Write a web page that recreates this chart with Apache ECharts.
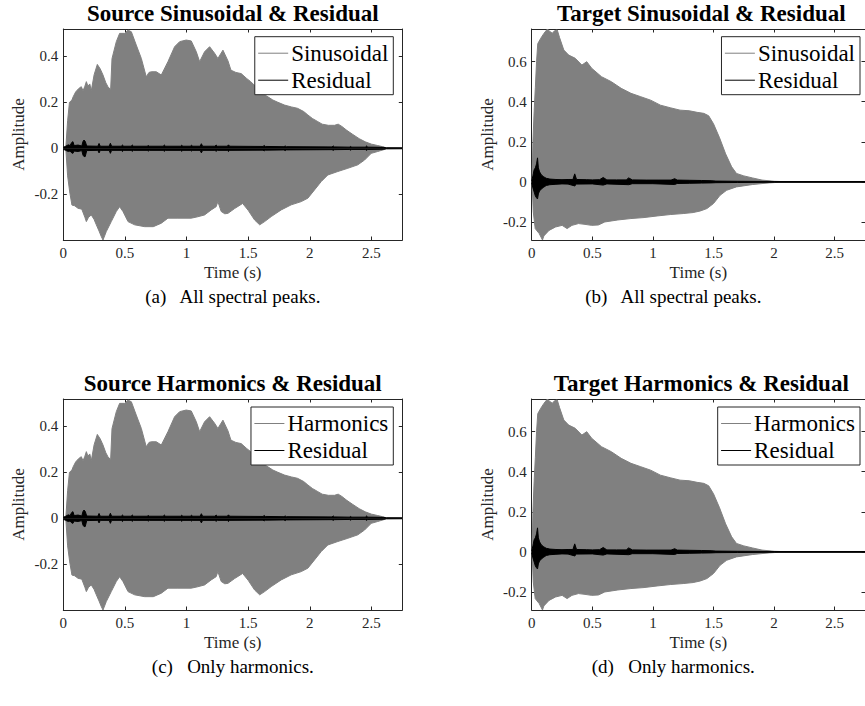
<!DOCTYPE html>
<html>
<head>
<meta charset="utf-8">
<script src="https://cdn.jsdelivr.net/npm/echarts@6/dist/echarts.min.js"></script>
<style>
  html, body { margin: 0; padding: 0; background: #fff; }
  #chart { width: 865px; height: 706px; }
</style>
</head>
<body>
<div id="chart"></div>
<script>
// ---- axis ticks and ranges ----
const timeTicks = [0, 0.5, 1, 1.5, 2, 2.5];
const timeRange = [0, 2.75];
const srcAmpTicks = [-0.2, 0, 0.2, 0.4];
const srcAmpRange = [-0.399, 0.519];
const tgtAmpTicks = [-0.2, 0, 0.2, 0.4, 0.6];
const tgtAmpRange = [-0.29, 0.763];

// ---- texts ----
const panelTitles = [
  'Source Sinusoidal & Residual',
  'Target Sinusoidal & Residual',
  'Source Harmonics & Residual',
  'Target Harmonics & Residual'
];
const panelCaptions = [
  '(a)\u2002 All spectral peaks.',
  '(b)\u2002 All spectral peaks.',
  '(c)\u2002 Only harmonics.',
  '(d)\u2002 Only harmonics.'
];
const modelNames = ['Sinusoidal', 'Sinusoidal', 'Harmonics', 'Harmonics'];

// ---- source signal: envelope of the deterministic part [time s, amplitude] ----
const srcSinUpper = [
  [0.0, 0], [0.02, 0.0], [0.035, 0.12], [0.05, 0.2], [0.07, 0.21], [0.08, 0.224],
  [0.1, 0.245], [0.125, 0.26], [0.146, 0.268], [0.16, 0.25], [0.175, 0.27],
  [0.187, 0.29], [0.2, 0.27], [0.215, 0.28], [0.227, 0.25], [0.25, 0.32],
  [0.276, 0.365], [0.3, 0.345], [0.322, 0.319], [0.345, 0.285], [0.362, 0.268],
  [0.384, 0.255], [0.395, 0.39], [0.43, 0.464], [0.457, 0.5], [0.498, 0.5],
  [0.525, 0.514], [0.552, 0.507], [0.592, 0.449], [0.633, 0.391], [0.673, 0.311],
  [0.695, 0.33], [0.714, 0.333], [0.754, 0.333], [0.795, 0.319], [0.849, 0.377],
  [0.903, 0.442], [0.944, 0.464], [0.997, 0.471], [1.038, 0.467], [1.079, 0.42],
  [1.106, 0.377], [1.146, 0.42], [1.187, 0.442], [1.228, 0.413], [1.254, 0.391],
  [1.295, 0.427], [1.336, 0.38], [1.36, 0.34], [1.4, 0.33], [1.443, 0.325],
  [1.487, 0.304], [1.52, 0.29], [1.568, 0.265], [1.61, 0.24], [1.66, 0.224],
  [1.7, 0.21], [1.741, 0.2], [1.795, 0.188], [1.85, 0.18], [1.9, 0.174],
  [1.95, 0.16], [1.984, 0.145], [2.02, 0.13], [2.065, 0.116], [2.1, 0.105],
  [2.15, 0.1], [2.2, 0.1], [2.23, 0.105], [2.26, 0.095], [2.3, 0.078],
  [2.349, 0.06], [2.4, 0.042], [2.45, 0.028], [2.5, 0.018], [2.55, 0.012],
  [2.59, 0.007], [2.62, 0.002], [2.75, 0.001]
];
const srcSinLower = [
  [0.02, 0], [0.035, -0.12], [0.052, -0.19], [0.07, -0.247], [0.092, -0.25],
  [0.119, -0.261], [0.15, -0.265], [0.175, -0.3], [0.187, -0.319], [0.205, -0.3],
  [0.227, -0.29], [0.25, -0.31], [0.268, -0.333], [0.29, -0.36], [0.308, -0.384],
  [0.322, -0.399], [0.349, -0.362], [0.389, -0.319], [0.43, -0.275], [0.457, -0.254],
  [0.484, -0.275], [0.525, -0.319], [0.579, -0.333], [0.66, -0.341], [0.73, -0.341],
  [0.795, -0.326], [0.849, -0.304], [0.93, -0.304], [1.038, -0.304], [1.09, -0.298],
  [1.146, -0.29], [1.2, -0.268], [1.24, -0.254], [1.254, -0.232], [1.281, -0.275],
  [1.31, -0.285], [1.336, -0.283], [1.39, -0.262], [1.455, -0.24], [1.5, -0.27],
  [1.552, -0.312], [1.593, -0.333], [1.633, -0.319], [1.687, -0.297], [1.768, -0.268],
  [1.849, -0.246], [1.93, -0.232], [1.984, -0.217], [2.038, -0.181], [2.092, -0.145],
  [2.146, -0.116], [2.227, -0.101], [2.308, -0.087], [2.389, -0.072], [2.444, -0.051],
  [2.498, -0.022], [2.55, -0.014], [2.6, -0.006], [2.62, -0.002], [2.75, -0.001]
];
// source residual envelope
const srcResUpper = [
  [0.0, 0.004], [0.02, 0.009], [0.04, 0.015], [0.055, 0.012], [0.068, 0.025],
  [0.078, 0.029], [0.088, 0.012], [0.12, 0.014], [0.15, 0.01], [0.16, 0.03],
  [0.168, 0.036], [0.178, 0.03], [0.19, 0.01], [0.28, 0.009], [0.29, 0.021],
  [0.3, 0.009], [0.372, 0.009], [0.382, 0.022], [0.392, 0.009], [0.47, 0.009],
  [0.48, 0.014], [0.49, 0.009], [0.55, 0.009], [0.56, 0.014], [0.57, 0.009],
  [0.68, 0.009], [0.69, 0.012], [0.7, 0.009], [0.81, 0.009], [0.82, 0.014],
  [0.83, 0.009], [0.95, 0.009], [0.96, 0.013], [0.97, 0.009], [1.03, 0.009],
  [1.04, 0.013], [1.05, 0.009], [1.11, 0.009], [1.12, 0.02], [1.13, 0.009],
  [1.23, 0.009], [1.24, 0.014], [1.25, 0.009], [1.33, 0.009], [1.34, 0.015],
  [1.35, 0.009], [1.62, 0.008], [1.63, 0.012], [1.64, 0.008], [1.79, 0.007],
  [1.8, 0.01], [1.81, 0.007], [2.18, 0.006], [2.19, 0.01], [2.2, 0.006],
  [2.32, 0.005], [2.33, 0.008], [2.34, 0.005], [2.45, 0.005], [2.46, 0.01],
  [2.47, 0.005], [2.6, 0.004], [2.62, 0.002], [2.75, 0.002]
];
const srcResLower = [
  [0.0, -0.004], [0.02, -0.009], [0.04, -0.014], [0.055, -0.012], [0.068, -0.02],
  [0.078, -0.022], [0.088, -0.012], [0.12, -0.014], [0.15, -0.01], [0.16, -0.03],
  [0.168, -0.036], [0.178, -0.036], [0.19, -0.01], [0.28, -0.009], [0.29, -0.02],
  [0.3, -0.009], [0.372, -0.009], [0.382, -0.022], [0.392, -0.009], [0.47, -0.009],
  [0.48, -0.014], [0.49, -0.009], [0.55, -0.009], [0.56, -0.013], [0.57, -0.009],
  [0.68, -0.009], [0.69, -0.012], [0.7, -0.009], [0.81, -0.009], [0.82, -0.013],
  [0.83, -0.009], [0.95, -0.009], [0.96, -0.013], [0.97, -0.009], [1.03, -0.009],
  [1.04, -0.012], [1.05, -0.009], [1.11, -0.009], [1.12, -0.02], [1.13, -0.009],
  [1.23, -0.009], [1.24, -0.013], [1.25, -0.009], [1.33, -0.009], [1.34, -0.014],
  [1.35, -0.009], [1.62, -0.008], [1.63, -0.011], [1.64, -0.008], [1.79, -0.007],
  [1.8, -0.01], [1.81, -0.007], [2.18, -0.006], [2.19, -0.009], [2.2, -0.006],
  [2.32, -0.005], [2.33, -0.008], [2.34, -0.005], [2.45, -0.005], [2.46, -0.009],
  [2.47, -0.005], [2.6, -0.004], [2.62, -0.002], [2.75, -0.002]
];

// ---- target signal: envelope of the deterministic part ----
const tgtSinUpper = [
  [0.003, 0], [0.01, 0.2], [0.02, 0.35], [0.03, 0.47], [0.04, 0.6], [0.05, 0.69],
  [0.075, 0.717], [0.102, 0.742], [0.13, 0.763], [0.15, 0.75], [0.17, 0.742],
  [0.19, 0.755], [0.211, 0.758], [0.23, 0.72], [0.265, 0.658], [0.305, 0.633],
  [0.359, 0.617], [0.414, 0.583], [0.454, 0.6], [0.495, 0.567], [0.576, 0.525],
  [0.657, 0.5], [0.738, 0.467], [0.819, 0.442], [0.9, 0.425], [0.981, 0.408],
  [1.062, 0.383], [1.143, 0.37], [1.224, 0.358], [1.3, 0.355], [1.365, 0.347],
  [1.42, 0.342], [1.46, 0.33], [1.5, 0.29], [1.55, 0.22], [1.6, 0.14],
  [1.65, 0.075], [1.69, 0.042], [1.75, 0.03], [1.82, 0.02], [1.9, 0.009],
  [2.0, 0.003], [2.1, 0.001], [2.75, 0.001]
];
const tgtSinLower = [
  [0.003, 0], [0.013, -0.15], [0.029, -0.233], [0.062, -0.258], [0.089, -0.29],
  [0.1, -0.27], [0.143, -0.242], [0.197, -0.225], [0.251, -0.217], [0.292, -0.233],
  [0.332, -0.217], [0.386, -0.208], [0.44, -0.212], [0.495, -0.217], [0.55, -0.215],
  [0.603, -0.2], [0.711, -0.19], [0.819, -0.183], [0.927, -0.178], [1.035, -0.17],
  [1.143, -0.163], [1.25, -0.158], [1.332, -0.153], [1.392, -0.145], [1.446, -0.133],
  [1.5, -0.108], [1.554, -0.067], [1.608, -0.042], [1.689, -0.025], [1.824, -0.013],
  [1.959, -0.005], [2.04, -0.002], [2.75, -0.001]
];
// target residual envelope
const tgtResUpper = [
  [0.0, 0.005], [0.01, 0.03], [0.02, 0.06], [0.03, 0.07], [0.04, 0.09],
  [0.048, 0.12], [0.055, 0.07], [0.065, 0.05], [0.08, 0.035], [0.1, 0.025],
  [0.12, 0.018], [0.15, 0.014], [0.2, 0.012], [0.25, 0.011], [0.3, 0.012],
  [0.34, 0.012], [0.355, 0.04], [0.37, 0.012], [0.45, 0.011], [0.5, 0.01],
  [0.56, 0.011], [0.59, 0.022], [0.62, 0.01], [0.7, 0.01], [0.78, 0.01],
  [0.8, 0.02], [0.83, 0.01], [0.95, 0.009], [1.05, 0.009], [1.15, 0.009],
  [1.18, 0.016], [1.2, 0.009], [1.3, 0.008], [1.4, 0.007], [1.48, 0.006],
  [1.52, 0.004], [1.7, 0.003], [2.0, 0.002], [2.75, 0.002]
];
const tgtResLower = [
  [0.0, -0.005], [0.01, -0.03], [0.02, -0.05], [0.03, -0.07], [0.04, -0.08],
  [0.048, -0.085], [0.055, -0.06], [0.065, -0.045], [0.08, -0.035], [0.1, -0.026],
  [0.12, -0.018], [0.15, -0.014], [0.2, -0.012], [0.25, -0.01], [0.3, -0.011],
  [0.355, -0.02], [0.37, -0.011], [0.5, -0.01], [0.59, -0.016], [0.62, -0.01],
  [0.8, -0.014], [0.83, -0.009], [1.0, -0.009], [1.18, -0.013], [1.2, -0.008],
  [1.3, -0.007], [1.4, -0.006], [1.48, -0.005], [1.52, -0.004], [1.7, -0.003],
  [2.0, -0.002], [2.75, -0.002]
];

// The harmonic-only resynthesis has the same envelopes as the full sinusoidal model.
const panelEnvelopes = [
  { sin: [srcSinUpper, srcSinLower], res: [srcResUpper, srcResLower], range: srcAmpRange, ticks: srcAmpTicks },
  { sin: [tgtSinUpper, tgtSinLower], res: [tgtResUpper, tgtResLower], range: tgtAmpRange, ticks: tgtAmpTicks },
  { sin: [srcSinUpper, srcSinLower], res: [srcResUpper, srcResLower], range: srcAmpRange, ticks: srcAmpTicks },
  { sin: [tgtSinUpper, tgtSinLower], res: [tgtResUpper, tgtResLower], range: tgtAmpRange, ticks: tgtAmpTicks }
];

// ---- layout ----
const SERIF = "'Liberation Serif', 'Times New Roman', serif";
const AXIS_COLOR = '#262626';
const SIN_COLOR = '#808080';
const RES_COLOR = '#000000';
const grids = [
  { left: 63.3, top: 29, width: 339, height: 211 },
  { left: 531.7, top: 29, width: 339.2, height: 211 },
  { left: 63.3, top: 399, width: 339, height: 211 },
  { left: 531.7, top: 399, width: 339.2, height: 211 }
];
const legendPos = [
  { right: 471.7, top: 36.7 },
  { right: 5, top: 36.7 },
  { right: 471.7, top: 407 },
  { right: 5, top: 407 }
];

function xAxisCfg(gi, position, primary) {
  return {
    type: 'value', gridIndex: gi, position,
    min: timeRange[0], max: timeRange[1],
    axisLine: { show: true, onZero: false, lineStyle: { color: AXIS_COLOR, width: 1 } },
    axisTick: { show: true, inside: true, length: 3.5, customValues: timeTicks,
                lineStyle: { color: AXIS_COLOR, width: 1 } },
    axisLabel: { show: primary, customValues: timeTicks, margin: 5, color: AXIS_COLOR,
                 fontFamily: SERIF, fontSize: 15, formatter: v => String(v) },
    splitLine: { show: false },
    name: primary ? 'Time (s)' : '',
    nameLocation: 'middle', nameGap: 24,
    nameTextStyle: { fontFamily: SERIF, fontSize: 17, color: AXIS_COLOR }
  };
}
function yAxisCfg(gi, position, primary, range, ticks) {
  return {
    type: 'value', gridIndex: gi, position,
    min: range[0], max: range[1],
    axisLine: { show: true, onZero: false, lineStyle: { color: AXIS_COLOR, width: 1 } },
    axisTick: { show: true, inside: true, length: 3.5, customValues: ticks,
                lineStyle: { color: AXIS_COLOR, width: 1 } },
    axisLabel: { show: primary, customValues: ticks, margin: 5, color: AXIS_COLOR,
                 fontFamily: SERIF, fontSize: 15, formatter: v => String(v) },
    splitLine: { show: false },
    name: primary ? 'Amplitude' : '',
    nameLocation: 'middle', nameGap: 36,
    nameTextStyle: { fontFamily: SERIF, fontSize: 17, color: AXIS_COLOR }
  };
}
function envelope(name, data, color, idx, z) {
  return {
    type: 'line', name, data, xAxisIndex: idx, yAxisIndex: idx,
    symbol: 'none', showSymbol: false, silent: true, z,
    lineStyle: { color, width: 1 },
    itemStyle: { color },
    areaStyle: { color, opacity: 1 },
    animation: false
  };
}

const xAxes = [], yAxes = [], series = [], titles = [], legends = [];
panelEnvelopes.forEach((p, i) => {
  xAxes[i] = xAxisCfg(i, 'bottom', true);
  xAxes[i + 4] = xAxisCfg(i, 'top', false);
  yAxes[i] = yAxisCfg(i, 'left', true, p.range, p.ticks);
  yAxes[i + 4] = yAxisCfg(i, 'right', false, p.range, p.ticks);

  series.push(envelope(modelNames[i], p.sin[0], SIN_COLOR, i, 2));
  series.push(envelope(modelNames[i], p.sin[1], SIN_COLOR, i, 2));
  series.push(envelope('Residual', p.res[0], RES_COLOR, i, 3));
  series.push(envelope('Residual', p.res[1], RES_COLOR, i, 3));

  const g = grids[i];
  titles.push({
    text: panelTitles[i], left: g.left + g.width / 2, top: g.top - 27,
    textAlign: 'center', padding: 0,
    textStyle: { fontFamily: SERIF, fontSize: 23, fontWeight: 'bold', color: '#000' }
  });
  titles.push({
    text: panelCaptions[i], left: g.left + g.width / 2 - (i % 2 ? 28 : 0), top: g.top + 258,
    textAlign: 'center', padding: 0,
    textStyle: { fontFamily: SERIF, fontSize: 19, fontWeight: 'normal', color: '#000' }
  });
  legends.push({
    data: [modelNames[i], 'Residual'],
    orient: 'vertical', right: legendPos[i].right, top: legendPos[i].top,
    padding: [5, 5, 3, 3.4], itemGap: 4, itemWidth: 30, itemHeight: 1,
    icon: 'rect', selectedMode: false,
    backgroundColor: '#ffffff', borderColor: AXIS_COLOR, borderWidth: 1,
    itemStyle: { borderWidth: 0 },
    textStyle: { fontFamily: SERIF, fontSize: 23, color: '#000', padding: [0, 0, 0, -2] }
  });
});

const chart = echarts.init(document.getElementById('chart'), null, { renderer: 'svg' });
chart.setOption({
  backgroundColor: '#ffffff',
  animation: false,
  title: titles,
  legend: legends,
  grid: grids,
  xAxis: xAxes,
  yAxis: yAxes,
  series
});
</script>
</body>
</html>
